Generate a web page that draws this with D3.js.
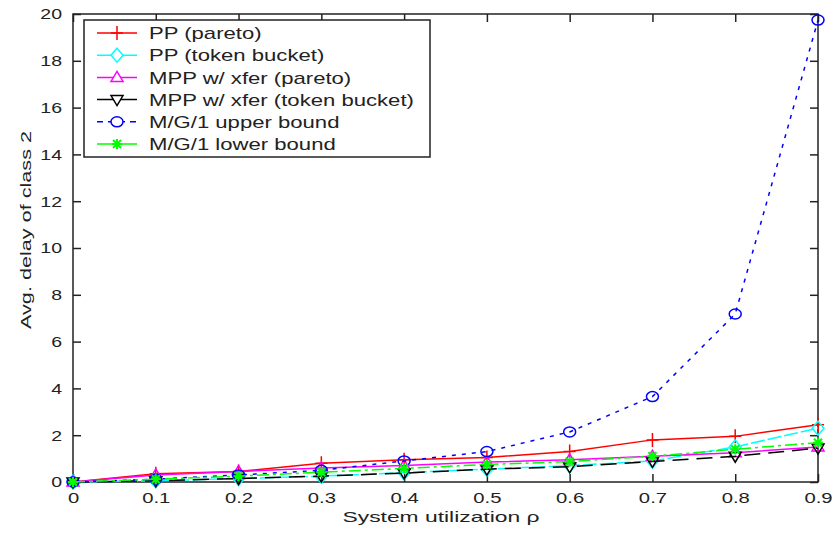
<!DOCTYPE html>
<html>
<head>
<meta charset="utf-8">
<script src="https://cdn.jsdelivr.net/npm/d3@7"></script>
<style>
  body { margin: 0; background: #fff; }
  svg { display: block; font-family: "Liberation Sans", Arial, sans-serif; }
</style>
</head>
<body>
<svg id="chart" width="835" height="539"></svg>
<script>
// utilization values on the x axis
const utilization = [0, 0.1, 0.2, 0.3, 0.4, 0.5, 0.6, 0.7, 0.8, 0.9];

// avg delay of class 2 for each series
const ppPareto   = [0, 0.35, 0.45, 0.8, 0.95, 1.05, 1.3, 1.8, 1.95, 2.45];
const ppToken    = [0, 0.05, 0.15, 0.25, 0.4, 0.55, 0.7, 0.9, 1.5, 2.3];
const mppPareto  = [0, 0.3, 0.45, 0.6, 0.7, 0.85, 0.95, 1.1, 1.25, 1.5];
const mppToken   = [0, 0.05, 0.15, 0.25, 0.38, 0.55, 0.65, 0.88, 1.1, 1.45];
const upperBound = [0, 0.12, 0.3, 0.5, 0.9, 1.3, 2.14, 3.65, 7.18, 19.74];
const lowerBound = [0, 0.12, 0.25, 0.42, 0.58, 0.75, 0.87, 1.1, 1.4, 1.68];

const xTicks = [0, 0.1, 0.2, 0.3, 0.4, 0.5, 0.6, 0.7, 0.8, 0.9];
const yTicks = [0, 2, 4, 6, 8, 10, 12, 14, 16, 18, 20];

const seriesNames = ["PP (pareto)", "PP (token bucket)", "MPP w/ xfer (pareto)",
  "MPP w/ xfer (token bucket)", "M/G/1 upper bound", "M/G/1 lower bound"];

const series = [
  { name: seriesNames[0], values: ppPareto,   color: "#ff0000", dash: null,       marker: "plus" },
  { name: seriesNames[1], values: ppToken,    color: "#00ffff", dash: "14,3",     marker: "diamond" },
  { name: seriesNames[2], values: mppPareto,  color: "#ff00ff", dash: null,       marker: "triUp" },
  { name: seriesNames[3], values: mppToken,   color: "#000000", dash: "16,8",     marker: "triDown" },
  { name: seriesNames[4], values: upperBound, color: "#0000ff", dash: "4,6",      marker: "circle" },
  { name: seriesNames[5], values: lowerBound, color: "#00ff00", dash: "12,4,3,4", marker: "star" }
];

const svg = d3.select("#chart");
const plotL = 73, plotR = 818, plotT = 14, plotB = 482;

const x = d3.scaleLinear().domain([0, 0.9]).range([plotL, plotR]);
const y = d3.scaleLinear().domain([0, 20]).range([plotB, plotT]);

// stretch text horizontally like the original bitmap rendering
function stretch(sel, k) {
  sel.each(function () {
    const w = this.getComputedTextLength();
    d3.select(this).attr("textLength", w * k).attr("lengthAdjust", "spacingAndGlyphs");
  });
}

// axes (ticks inside on all sides)
const gx = svg.append("g").attr("transform", `translate(0,${plotB})`)
  .call(d3.axisBottom(x).tickValues(xTicks).tickSize(-8).tickPadding(13).tickFormat(d => d === 0 ? "0" : d3.format(".1f")(d)));
const gxTop = svg.append("g").attr("transform", `translate(0,${plotT})`)
  .call(d3.axisTop(x).tickValues(xTicks).tickSize(-8).tickFormat(""));
const gy = svg.append("g").attr("transform", `translate(${plotL},0)`)
  .call(d3.axisLeft(y).tickValues(yTicks).tickSize(-8).tickPadding(11));
const gyRight = svg.append("g").attr("transform", `translate(${plotR},0)`)
  .call(d3.axisRight(y).tickValues(yTicks).tickSize(-8).tickFormat(""));

[gx, gxTop, gy, gyRight].forEach(g => {
  g.select(".domain").remove();
  g.selectAll(".tick line").attr("stroke", "#222").attr("stroke-width", 1.5);
  g.selectAll("text").attr("font-size", 15).attr("fill", "#222")
    .attr("font-family", "'Liberation Sans', Arial, sans-serif");
});
gx.selectAll("text").attr("dy", "0.5em");
stretch(gx.selectAll("text"), 1.35);
stretch(gy.selectAll("text"), 1.3);

svg.append("rect")
  .attr("x", plotL).attr("y", plotT)
  .attr("width", plotR - plotL).attr("height", plotB - plotT)
  .attr("fill", "none").attr("stroke", "#222").attr("stroke-width", 1.5);

// axis labels
svg.append("text")
  .attr("x", 441).attr("y", 522)
  .attr("text-anchor", "middle").attr("font-size", 15).attr("fill", "#222")
  .attr("textLength", 197).attr("lengthAdjust", "spacingAndGlyphs")
  .text("System utilization ρ");

svg.append("text")
  .attr("transform", "translate(31,230) rotate(-90)")
  .attr("text-anchor", "middle").attr("font-size", 15).attr("fill", "#222")
  .attr("textLength", 198).attr("lengthAdjust", "spacingAndGlyphs")
  .text("Avg. delay of class 2");

// marker shapes
function markerPath(type) {
  const p = d3.path();
  if (type === "plus") {
    p.moveTo(-6, 0); p.lineTo(6, 0);
    p.moveTo(0, -7); p.lineTo(0, 7);
  } else if (type === "diamond") {
    p.moveTo(0, -7); p.lineTo(6, 0); p.lineTo(0, 7); p.lineTo(-6, 0); p.closePath();
  } else if (type === "triUp") {
    p.moveTo(0, -6); p.lineTo(6, 4); p.lineTo(-6, 4); p.closePath();
  } else if (type === "triDown") {
    p.moveTo(0, 6); p.lineTo(6, -4); p.lineTo(-6, -4); p.closePath();
  } else if (type === "circle") {
    return "M-6,0 A6,5 0 1,0 6,0 A6,5 0 1,0 -6,0 Z";
  } else if (type === "star") {
    p.moveTo(-5, 0); p.lineTo(5, 0);
    p.moveTo(0, -5); p.lineTo(0, 5);
    p.moveTo(-4, -4); p.lineTo(4, 4);
    p.moveTo(-4, 4); p.lineTo(4, -4);
  }
  return p.toString();
}

const line = d3.line().x(d => x(d[0])).y(d => y(d[1]));

const plot = svg.append("g");
series.forEach(s => {
  const pts = utilization.map((u, i) => [u, s.values[i]]);
  const g = plot.append("g");
  g.append("path")
    .attr("d", line(pts))
    .attr("fill", "none")
    .attr("stroke", s.color)
    .attr("stroke-width", 1.5)
    .attr("stroke-dasharray", s.dash);
  g.selectAll("path.mk").data(pts).join("path")
    .attr("class", "mk")
    .attr("transform", d => `translate(${x(d[0])},${y(d[1])})`)
    .attr("d", markerPath(s.marker))
    .attr("fill", "none")
    .attr("stroke", s.color)
    .attr("stroke-width", s.marker === "star" ? 2 : 1.5);
});

// legend
const legend = svg.append("g");
legend.append("rect")
  .attr("x", 84).attr("y", 20).attr("width", 346).attr("height", 137)
  .attr("fill", "#fff").attr("stroke", "#222").attr("stroke-width", 1.5);

series.forEach((s, i) => {
  const cy = 33 + i * 22.2;
  const row = legend.append("g");
  row.append("line")
    .attr("x1", 97).attr("x2", 137).attr("y1", cy).attr("y2", cy)
    .attr("stroke", s.color).attr("stroke-width", 1.5)
    .attr("stroke-dasharray", s.marker === "circle" ? "6,5" : null);
  row.append("path")
    .attr("transform", `translate(117,${cy})`)
    .attr("d", markerPath(s.marker))
    .attr("fill", "#fff")
    .attr("fill-opacity", s.marker === "plus" || s.marker === "star" ? 0 : 1)
    .attr("stroke", s.color).attr("stroke-width", s.marker === "star" ? 2 : 1.5);
  row.append("text")
    .attr("x", 149).attr("y", cy).attr("dy", "0.36em")
    .attr("font-size", 17).attr("fill", "#222")
    .text(s.name);
});
stretch(legend.selectAll("text"), 1.3);
</script>
</body>
</html>
